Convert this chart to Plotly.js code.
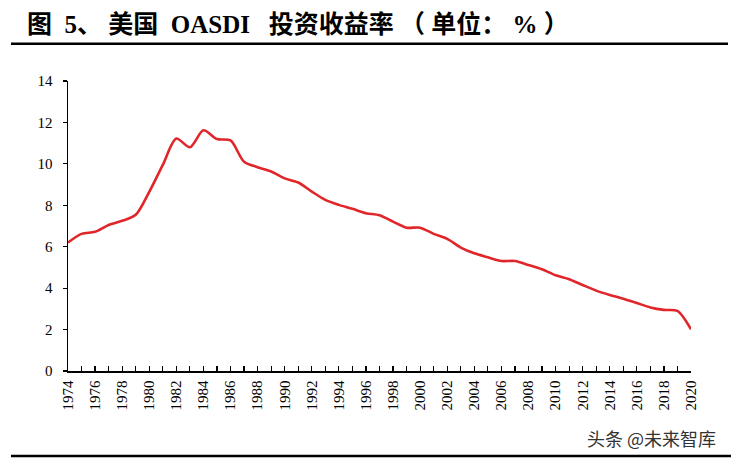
<!DOCTYPE html>
<html>
<head>
<meta charset="utf-8">
<script src="https://cdn.plot.ly/plotly-3.0.1.min.js"></script>
<style>html,body{margin:0;padding:0;background:#fff;}#chart{width:731px;height:461px;}</style>
</head>
<body>
<div id="chart"></div>
<script>
var years = [1974,1975,1976,1977,1978,1979,1980,1981,1982,1983,1984,1985,1986,1987,1988,1989,1990,1991,1992,1993,1994,1995,1996,1997,1998,1999,2000,2001,2002,2003,2004,2005,2006,2007,2008,2009,2010,2011,2012,2013,2014,2015,2016,2017,2018,2019,2020];
var yieldRate = [6.2,6.62,6.72,7.05,7.25,7.54,8.65,9.95,11.22,10.8,11.62,11.2,11.13,10.1,9.84,9.63,9.3,9.1,8.66,8.26,8.02,7.83,7.62,7.52,7.21,6.92,6.92,6.62,6.38,5.96,5.68,5.49,5.31,5.31,5.12,4.91,4.62,4.43,4.15,3.88,3.67,3.49,3.28,3.07,2.95,2.9,2.01];
var yTicks = [0,2,4,6,8,10,12,14];
var xTicks = [1974,1976,1978,1980,1982,1984,1986,1988,1990,1992,1994,1996,1998,2000,2002,2004,2006,2008,2010,2012,2014,2016,2018,2020];
var S = '\u00a0';
var titleText = '图' + S + S + '5、' + S + '美国' + S + S + 'OASDI' + S + S + S + '投资收益率' + S + '（' + S + '单位：' + S + '%' + S + '）';
var watermark = '头条 @未来智库';

var serif = 'Liberation Serif, Times New Roman, Noto Sans CJK SC, serif';

var trace = {
  x: years, y: yieldRate, type: 'scatter', mode: 'lines',
  line: {color: '#E0262B', width: 2.6, shape: 'spline', smoothing: 0.8},
  hoverinfo: 'skip'
};

var layout = {
  width: 731, height: 461,
  margin: {l: 68, r: 40, t: 81, b: 90},
  paper_bgcolor: '#fff', plot_bgcolor: '#fff',
  showlegend: false,
  title: {
    text: '<b>' + titleText + '</b>',
    font: {family: serif, size: 25, color: '#000'},
    x: 27/731, xanchor: 'left', xref: 'container',
    y: 1 - 24/461, yanchor: 'middle', yref: 'container'
  },
  xaxis: {
    range: [1974, 2020],
    tickmode: 'array', tickvals: xTicks, ticktext: xTicks.map(String),
    tickangle: -90,
    ticks: 'inside', ticklen: 5, tickwidth: 1.2, tickcolor: '#000',
    minor: {dtick: 1, tick0: 1974, ticks: 'inside', ticklen: 5, tickwidth: 1.2, tickcolor: '#000', showgrid: false},
    showline: true, linecolor: '#000', linewidth: 1.5,
    showgrid: false, zeroline: false,
    ticklabelstandoff: 2,
    tickfont: {family: serif, size: 15, color: '#000'}
  },
  yaxis: {
    range: [0, 14],
    tickmode: 'array', tickvals: yTicks, ticktext: yTicks.map(String),
    ticks: 'outside', ticklen: 4, tickwidth: 1.2, tickcolor: '#000',
    showline: true, linecolor: '#000', linewidth: 1.5,
    showgrid: false, zeroline: false,
    ticklabelstandoff: 7,
    tickfont: {family: serif, size: 15, color: '#000'}
  },
  shapes: [
    {type: 'line', xref: 'paper', yref: 'paper', x0: (11-68)/623, x1: (728-68)/623, y0: (371-43.8)/290, y1: (371-43.8)/290, line: {color: '#000', width: 2.4}},
    {type: 'line', xref: 'paper', yref: 'paper', x0: (11-68)/623, x1: (731-68)/623, y0: (371-456)/290, y1: (371-456)/290, line: {color: '#000', width: 2.6}}
  ],
  annotations: [
    {text: watermark, xref: 'paper', yref: 'paper', x: (718-68)/623, y: (371-437.5)/290, xanchor: 'right', yanchor: 'middle', showarrow: false, font: {family: 'Noto Sans CJK SC, sans-serif', size: 18, color: '#333'}}
  ]
};

Plotly.newPlot('chart', [trace], layout, {staticPlot: true, displayModeBar: false});
</script>
</body>
</html>
